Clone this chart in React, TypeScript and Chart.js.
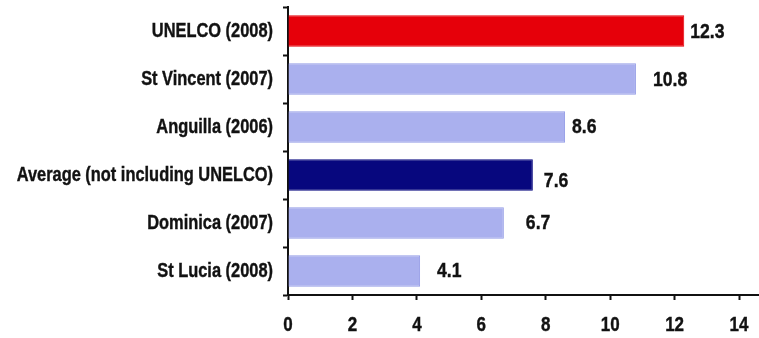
import React, { useEffect, useRef } from "react";
import { Chart, registerables } from "chart.js";

Chart.register(...registerables);

// Cost per unit, top to bottom
const categories = [
  "UNELCO (2008)",
  "St Vincent (2007)",
  "Anguilla (2006)",
  "Average (not including UNELCO)",
  "Dominica (2007)",
  "St Lucia (2008)",
];
const values = [12.3, 10.8, 8.6, 7.6, 6.7, 4.1];
const xTickValues = [0, 2, 4, 6, 8, 10, 12, 14];

const RED = "#e6000a";
const LAVENDER = "#aab0ee";
const NAVY = "#07077e";
const barColors = [RED, LAVENDER, LAVENDER, NAVY, LAVENDER, LAVENDER];
const barBorders = ["#e6000a", "#949ce6", "#949ce6", "#07077e", "#949ce6", "#949ce6"];

// Small per-label nudges [dx, dy] for the value labels beside each bar
const labelNudge: [number, number][] = [
  [6, 1],
  [17, 1],
  [7, 0],
  [11, 6],
  [22, 0],
  [17, 0],
];

const FONT = "'Liberation Sans', Arial, Helvetica, sans-serif";

// Draws condensed bold text: glyphs squeezed horizontally around the anchor,
// with a thin outline to give the heavy printed look.
function narrowText(
  ctx: CanvasRenderingContext2D,
  text: string,
  x: number,
  y: number,
  align: CanvasTextAlign,
  size: number,
  squeeze: number
) {
  ctx.save();
  ctx.font = `bold ${size}px ${FONT}`;
  ctx.fillStyle = "#121212";
  ctx.strokeStyle = "#121212";
  ctx.lineWidth = 0.4;
  ctx.textAlign = align;
  ctx.textBaseline = "middle";
  ctx.translate(x, y);
  ctx.scale(squeeze, 1);
  ctx.fillText(text, 0, 0);
  ctx.strokeText(text, 0, 0);
  ctx.restore();
}

const textLayer = {
  id: "textLayer",
  afterDraw(chart: any) {
    const ctx = chart.ctx as CanvasRenderingContext2D;
    const xs = chart.scales.x;
    const ys = chart.scales.y;

    // category labels, right-aligned left of the axis
    categories.forEach((label, i) => {
      narrowText(ctx, label, ys.right - 15, ys.getPixelForTick(i), "right", 20, 0.82);
    });

    // x tick labels under the axis
    xTickValues.forEach((v) => {
      narrowText(ctx, String(v), xs.getPixelForValue(v), xs.top + 30, "center", 20, 0.85);
    });

    // value labels beside each bar
    const meta = chart.getDatasetMeta(0);
    meta.data.forEach((bar: any, i: number) => {
      const [dx, dy] = labelNudge[i];
      narrowText(ctx, values[i].toFixed(1), bar.x + dx, bar.y + dy, "left", 20, 0.88);
    });
  },
};

export default function App() {
  const canvasRef = useRef<HTMLCanvasElement | null>(null);

  useEffect(() => {
    if (!canvasRef.current) return;
    const chart = new Chart(canvasRef.current, {
      type: "bar",
      data: {
        labels: categories,
        datasets: [
          {
            data: values,
            backgroundColor: barColors,
            borderColor: barBorders,
            borderWidth: 1,
            barPercentage: 0.66,
            categoryPercentage: 1,
          },
        ],
      },
      options: {
        indexAxis: "y",
        animation: false,
        responsive: false,
        devicePixelRatio: 1,
        layout: { padding: { top: 7, right: 0, left: 0, bottom: 0 } },
        plugins: {
          legend: { display: false },
          tooltip: { enabled: false },
        },
        scales: {
          x: {
            min: 0,
            max: 14.62,
            afterBuildTicks(scale: any) {
              scale.ticks = xTickValues.map((v) => ({ value: v }));
            },
            afterFit(scale: any) {
              scale.height = 43;
              scale.paddingLeft = 0;
              scale.paddingRight = 0;
            },
            grid: {
              drawOnChartArea: false,
              drawTicks: true,
              tickLength: 5,
              tickWidth: 2,
              color: "#111",
            },
            border: { display: true, color: "#111", width: 2 },
            ticks: { display: false, autoSkip: false },
          },
          y: {
            afterFit(scale: any) {
              scale.width = 288;
              scale.paddingTop = 0;
              scale.paddingBottom = 0;
            },
            grid: {
              drawOnChartArea: false,
              drawTicks: true,
              tickLength: 5,
              tickWidth: 2,
              color: "#111",
              offset: true,
            },
            border: { display: true, color: "#111", width: 2 },
            ticks: { display: false, autoSkip: false },
          },
        },
      },
      plugins: [textLayer],
    });
    return () => chart.destroy();
  }, []);

  return (
    <div
      style={{
        position: "absolute",
        left: 0,
        top: 0,
        width: 759,
        height: 338,
        background: "#fff",
      }}
    >
      <canvas ref={canvasRef} width={759} height={338} />
    </div>
  );
}
